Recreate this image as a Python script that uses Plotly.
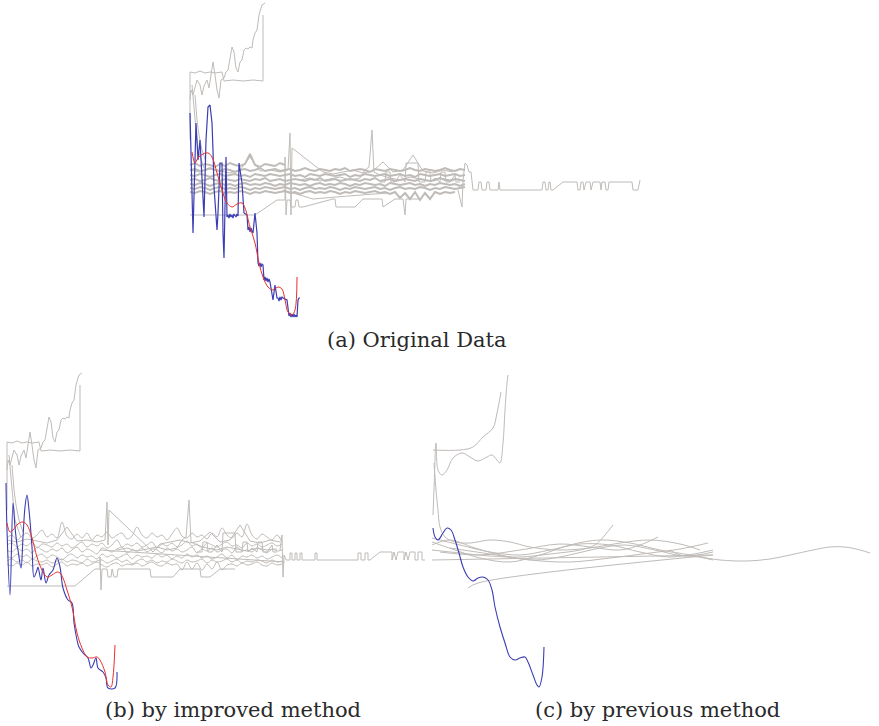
import plotly.graph_objects as go

# ---------------- Panel (a): original data ----------------
a_blue_t = [2,5,8,10,12,14,16,18,20,22,24,25,26,29,30,32,34,35,36,38,39,40,41,42,43,44,45,46,47,48,49,50,51,54,56,59,60,61,62,63,64,65,67,69,70,71,72,73,74,75,76,77,78,79,80,81,82,85,87,89,90,91,92,93,94,95,99,100,101,102,103,104,105,106,107,108,109,110,111,112]
a_blue_v = [207,87,197,160,180,133,103,180,213,215,197,170,133,90,107,157,157,87,62,163,103,105,102,106,103,105,102,106,104,103,106,104,157,137,107,105,90,93,88,92,89,87,107,87,57,54,57,53,56,55,40,43,39,42,38,41,38,20,35,22,22,19,23,20,23,22,20,8,4,7,3,6,3,6,3,5,3,20,22,22]
a_red_t = [4,7,10,15,20,24,29,34,39,44,49,54,57,62,67,71,75,80,85,90,94,97,100,104,107,109]
a_red_v = [168,157,162,166,167,163,147,130,117,113,116,117,112,93,77,57,43,33,30,33,31,20,8,5,10,43]

stair_t = [2,3,5,7,9,12,14,16,19,21,24,25,27,29,31,33,36,38,40,42,44,46,48,50,52,54,56,58,60,62,64,65,67,69,71,73,74,77]
stair_v = [220,230,225,232,240,235,225,234,240,232,250,258,245,230,222,240,242,248,250,260,273,268,252,248,258,260,270,272,271,273,272,280,287,290,305,312,315,317]
step_t = [2,2,7,12,17,22,27,34,36,45,55,65,75,75]
step_v = [180,248,247,249,247,248,247,248,239,240,239,240,239,305]
desc1_t = [4,6,8,10,13,16]
desc1_v = [235,210,190,170,160,152]
desc2_t = [7,9,11,14,18]
desc2_v = [225,200,185,170,158]

# dense noisy stripes of panel (a) (sampled every 5 steps from t=2)
stripe1_v = [155,157,154,156,155,153,156,154,157,155,154,156,166,155,153,156,155,154,157,155]
stripe2_v = [150,151,149,150,152,150,149,151,150,148,150,151,149,150,152,149,150,151,149,150,151,149,150,152,150,149,151,150,149,151,150,152,149,150,151,150,148,151,150,149,151,150,149,150,152,150,149,151,150,149,150,152,150,149,151,150]
stripe3_v = [145,144,146,145,143,145,146,144,145,146,144,145,143,146,145,144,146,145,144,145,146,144,145,143,146,145,144,146,145,144,145,146,143,145,144,146,145,144,145,146,144,145,146,144,145,143,146,145,144,145,146,144,145,146,144,145]
stripe4_v = [140,141,139,140,142,140,139,141,140,139,141,140,139,141,140,142,139,140,141,139,140,141,140,139,141,140,142,139,140,141,139,140,141,140,139,141,140,142,139,140,141,139,140,141,140,139,141,140,139,140,142,140,139,141,140,139]
stripe5_v = [136,135,137,136,134,136,137,135,136,134,136,137,135,136,135,137,136,134,136,135,137,136,135,136,134,136,137,135,136,135,137,136,134,136,135,137,136,135,136,134,137,136,135,136,137,135,136,134,136,135,137,136,135,136,134,136]
stripe6_v = [132,131,133,132,130,132,133,131,132,131,133,132,130,132,131,133,132,131,132,133,131,132,130,132,133,131,132,131,133,132,130,132,131,133,132,131,132,133,131,132,130,132,133,131,132,131,133,132,130,132,131,133,132,131,132,133]
stripe7_v = [128,127,129,128,126,128,129,127,128,127,129,128,126,128,127,129,128,127,128,129,127,128,126,128,129,127,128,127,129,128,126,128,127,129,128,127,128,129,127,128,126,128,122,127,121,128,120,127,121,128,126,128,127,128]

# wavier series of panel (b)
band1_v = [152,155,150,154,157,152,155,160,153,156,152,168,154,151,156,152,157,150,155,153,158,152,155,157,151,154,163,155,152,157,153,155,150,156,162,154,152,157,153,155,151,157,153,162,155,152,157,153,166,155,151,156,153,150,155,148]
band2_v = [145,147,143,146,144,148,142,146,145,143,147,144,146,142,145,148,143,146,144,147,142,145,150,143,146,144,147,143,145,148,142,146,144,147,143,145,149,144,146,142,147,145,143,146,148,144,145,142,147,144,146,143,145,147,144,146]
band3_v = [140,138,142,139,141,137,143,140,138,141,139,142,137,140,143,138,141,139,136,142,140,138,141,143,137,140,139,142,138,141,140,137,142,139,141,138,140,143,137,141,139,142,138,140,141,137,143,139,140,138,142,140,137,141,139,140]
band4_v = [134,132,136,133,135,131,134,136,132,135,133,130,134,136,132,135,133,134,131,136,133,135,132,134,136,131,135,133,134,132,136,133,135,131,134,132,136,133,135,132,134,131,133,136,132,135,130,134,133,135,132,134,131,133,135,132]
band5_v = [129,131,128,130,127,131,129,128,130,127,129,131,128,130,129,127,131,128,129,130,127,129,131,128,130,126,129,131,128,130,127,129,128,131,129,127,130,128,129,131,127,130,128,129,131,128,130,127,129,128,130,129,127,130,128,129]
band6_v = [126,124,127,125,128,124,126,125,127,123,126,128,124,126,125,127,124,126,128,125,123,126,127,124,126,125,127,124,126,128,125,124,127,125,126,120,128,121,127,120,126,121,128,120,125,126,124,127,125,126,128,125,124,127,125,126]

spikeA_t = [2,12,22,32,42,52,62,72,82,92,100,102,103,104,135,145,155,165,175,185,195,205,215,225,235,245,255,265]
spikeA_v = [150,148,151,149,147,150,163,149,150,148,150,187,105,172,148,146,148,150,147,149,158,148,150,165,149,147,150,148]
spikeB_t = [112,122,132,142,152,162,172,177,181,184,186,192,202,212,222,232,242,252,262,272]
spikeB_v = [140,142,139,141,143,140,142,150,153,190,148,145,142,140,143,141,139,142,140,141]
lowA_t = [2,67,89,97,97,98,99,102,103,107,108,110,111,115,145,147,148,167,175,194,195,207,215,217,218,232]
lowA_v = [105,105,120,120,163,105,120,120,113,113,120,120,113,113,121,121,113,113,121,121,113,121,121,105,121,121]
diagA_t = [95,102,125,160,200]
diagA_v = [130,128,121,124,127]
boxA_t = [192,197,198,202,203,207,212,217,218,219,230,231,237,238,242,243,247,252,253,257,258,262,267,268,272]
boxA_v = [138,138,148,148,138,138,145,138,157,157,157,138,138,148,148,138,142,138,148,148,138,138,145,138,138]
tailA_t = [270,274,275,277,279,281,283,285,290,291,293,294,298,299,301,302,310,311,312,354,355,357,358,360,361,362,363,365,375,389,390,392,393,395,396,398,402,403,405,412,413,414,417,418,420,421,444,445,450,451,452]
tailA_v = [130,113,140,157,155,148,148,130,130,138,138,130,130,138,138,130,130,138,130,130,138,138,130,130,138,138,130,130,138,138,130,130,138,138,130,138,138,130,138,138,130,138,138,130,130,138,138,130,130,137,140]

# ---------------- Panel (b): improved method ----------------
b_blue_t = [1,2,5,8,10,12,13,16,18,20,22,24,27,29,32,33,36,38,41,44,48,52,55,58,63,67,69,72,74,78,83,86,88,91,93,98,101,103,110,112]
b_blue_v = [207,160,95,187,163,145,140,122,153,183,195,180,143,113,120,123,110,122,107,115,120,132,123,102,90,87,67,50,43,37,32,22,25,32,22,18,12,2,2,18]
b_red_t = [2,5,8,13,18,22,27,32,37,42,47,52,55,58,62,67,72,77,82,87,92,95,100,103,106,108,110]
b_red_v = [167,158,160,166,168,165,152,133,120,113,115,118,117,112,100,83,57,42,33,32,33,30,18,5,3,13,45]
spikeAb_t = [2,12,22,32,42,52,62,72,82,92,100,102,103,104,148,155,165,175,185,195,205,215,225,235,245,255,265,275]
spikeAb_v = [150,148,151,149,147,150,163,149,150,148,150,188,145,180,138,146,148,150,147,149,158,148,150,165,149,147,150,148]
lowB_t = [2,70,90,95,95,96,97,102,103,106,107,109,112,113,145,146,168,175,195,196,205,215,230]
lowB_v = [104,104,121,121,133,100,121,121,113,113,121,113,113,121,121,113,113,121,121,113,113,121,121]
diagB_t = [95,245,280]
diagB_v = [140,130,128]
tailB_t = [275,277,278,279,281,285,285,287,287,290,290,292,292,295,295,297,297,310,310,312,312,353,353,356,356,360,360,363,363,365,375,387,387,389,391,393,393,399,399,401,403,405,405,410,410,413,413,417,417,420]
tailB_v = [140,155,113,135,130,130,137,137,130,130,137,137,130,130,137,137,130,130,137,137,130,130,137,137,130,130,137,137,130,130,138,138,130,138,130,138,138,138,130,138,130,138,138,138,130,130,138,138,130,130]

# ---------------- Panel (c): previous method ----------------
c_blue_t = [3,5,8,13,17,21,25,29,33,38,43,48,53,58,62,65,70,75,80,85,90,95,98,103,107,109,112,114]
c_blue_v = [162,153,150,157,162,160,150,137,123,113,109,112,113,110,100,83,63,47,33,30,32,33,28,15,5,3,13,43]
c_gray = [
    ([3,30,43,53,63,67,71], [240,240,243,253,262,277,298]),
    ([3,4,6,8,12,17,23,32,40,48,57,62,67,70,73,75,77,78], [175,200,247,220,215,220,232,237,233,229,233,235,230,227,247,280,307,315]),
    ([4,6,8,10,15,25,40,60,80,100,130,160,190,220,250,270], [227,200,180,163,153,148,147,150,148,143,140,142,147,150,146,140]),
    ([2,30,60,90,120,150,180,210,240,283], [152,145,138,135,140,146,145,138,133,140]),
    ([2,25,50,80,110,140,170,200,230,260,283], [148,140,132,128,135,145,150,147,140,135,130]),
    ([2,20,45,75,105,135,165,195,225,255,283], [145,150,142,134,130,134,141,145,140,134,138]),
    ([2,30,60,90,120,150,165,175,183], [140,137,134,133,136,140,145,155,165]),
    ([10,50,90,130,160,190,210,228], [138,135,140,146,143,140,145,153]),
    ([20,60,100,140,180,220,250,278], [142,136,130,128,132,137,141,147]),
    ([2,283], [130,135]),
    ([38,48,283], [102,107,135]),
    ([240,250,270,290,317,340,360,383,400,415,430,440], [140,135,133,130,129,131,135,140,143,143,140,137]),
]

captions = ["(a) Original Data", "(b) by improved method", "(c) by previous method"]

GRAY = "#bfbbb8"
BLUE = "#3b3db3"
RED = "#e8302a"

fig = go.Figure()

def add(t, v, ax, color=GRAY, width=1.0, shape="linear"):
    fig.add_trace(go.Scatter(x=t, y=v, mode="lines", xaxis="x" + ax, yaxis="y" + ax,
                             line=dict(color=color, width=width, shape=shape),
                             hoverinfo="skip", showlegend=False))

def band_t(vals):
    return list(range(2, 2 + 5 * len(vals), 5))

stripes = [stripe1_v, stripe2_v, stripe3_v, stripe4_v, stripe5_v, stripe6_v, stripe7_v]
bands = [band1_v, band2_v, band3_v, band4_v, band5_v, band6_v]

# panel a
for sv in stripes:
    add(band_t(sv), sv, "", GRAY, 2.0)
for t, v in [(stair_t, stair_v), (step_t, step_v), (desc1_t, desc1_v), (desc2_t, desc2_v),
             (spikeA_t, spikeA_v), (spikeB_t, spikeB_v), (lowA_t, lowA_v), (diagA_t, diagA_v),
             (boxA_t, boxA_v), (tailA_t, tailA_v)]:
    add(t, v, "")
add(a_blue_t, a_blue_v, "", BLUE, 1.2)
add(a_red_t, a_red_v, "", RED, 1.0, "spline")

# panel b
for t, v in [(stair_t, stair_v), (step_t, step_v), (desc1_t, desc1_v), (desc2_t, desc2_v),
             (spikeAb_t, spikeAb_v), (spikeB_t, spikeB_v), (lowB_t, lowB_v), (diagB_t, diagB_v),
             (boxA_t, boxA_v), (tailB_t, tailB_v)]:
    add(t, v, "2")
for bv in bands:
    add(band_t(bv), bv, "2", GRAY, 1.0, "spline")
add(b_blue_t, b_blue_v, "2", BLUE, 1.1, "spline")
add(b_red_t, b_red_v, "2", RED, 1.0, "spline")

# panel c
for t, v in c_gray:
    add(t, v, "3", GRAY, 1.0, "spline")
add(c_blue_t, c_blue_v, "3", BLUE, 1.1, "spline")

W, H = 879, 726
def xd(a, b):
    return [max(a, 0) / W, min(b, W) / W]
def yd(top, bot):
    return [max(1 - bot / H, 0), min(1 - top / H, 1)]

hidden = dict(visible=False, showgrid=False, zeroline=False, fixedrange=True)
fig.update_layout(
    width=W, height=H, margin=dict(l=0, r=0, t=0, b=0),
    paper_bgcolor="white", plot_bgcolor="rgba(0,0,0,0)",
    xaxis=dict(domain=xd(183, 645), range=[-5, 457], anchor="y", **hidden),
    yaxis=dict(domain=yd(0, 325), range=[-5, 320], anchor="x", **hidden),
    xaxis2=dict(domain=xd(0, 430), range=[-5, 425], anchor="y2", **hidden),
    yaxis2=dict(domain=yd(370, 695), range=[-5, 320], anchor="x2", **hidden),
    xaxis3=dict(domain=xd(425, 875), range=[-5, 445], anchor="y3", **hidden),
    yaxis3=dict(domain=yd(370, 695), range=[-5, 320], anchor="x3", **hidden),
)

cap_font = dict(family="DejaVu Serif", size=21, color="#2a2a2a")
for txt, cx, cy in zip(captions, [416, 233, 657], [340, 710, 710]):
    fig.add_annotation(text=txt, x=cx / W, y=1 - cy / H, xref="paper", yref="paper",
                       showarrow=False, xanchor="center", yanchor="middle", font=cap_font)

fig.write_html("out.html", config={"displayModeBar": False},
               post_script="document.body.style.margin='0px';")
